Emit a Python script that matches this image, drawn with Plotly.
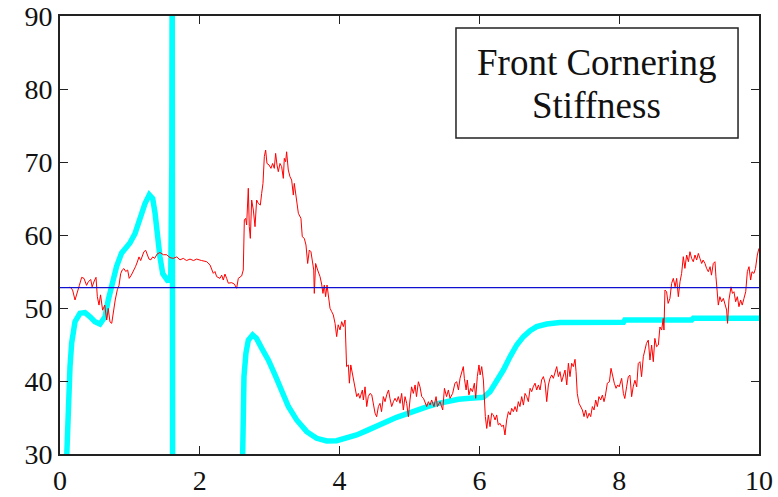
import plotly.graph_objects as go

# ---- data ----
reference_level = 52.8
x_ticks = [0, 2, 4, 6, 8, 10]
y_ticks = [30, 40, 50, 60, 70, 80, 90]
title_lines = ["Front Cornering", "Stiffness"]

red_points = [
    (0.143,52.9),(0.18,52.46),(0.215,51.1),(0.238,52.0),(0.277,53.1),(0.31,54.2),(0.343,54.06),
    (0.38,53.1),(0.405,53.6),(0.44,53.9),(0.46,52.9),(0.49,53.7),(0.515,54.2),(0.534,51.55),
    (0.558,50.4),(0.58,51.8),(0.61,49.7),(0.64,50.4),(0.668,48.35),(0.69,49.95),(0.715,48.1),
    (0.74,47.9),(0.763,49.7),(0.79,51.1),(0.82,52.5),(0.844,53.1),(0.868,54.7),(0.89,55.2),
    (0.915,55.4),(0.94,55.0),(0.968,55.2),(0.99,54.06),(1.02,54.5),(1.05,55.0),(1.08,55.66),
    (1.106,56.3),(1.13,57.0),(1.154,56.5),(1.178,57.3),(1.2,57.7),(1.226,57.9),(1.25,57.2),
    (1.273,56.7),(1.3,56.6),(1.326,57.0),(1.354,56.8),(1.39,57.4),(1.43,57.6),(1.478,57.3),
    (1.526,57.3),(1.574,56.9),(1.62,56.8),(1.67,57.0),(1.717,56.6),(1.764,56.8),(1.81,56.5),
    (1.86,56.7),(1.91,56.5),(1.955,56.7),
    (2.026,56.5),(2.098,56.35),(2.146,55.9),(2.193,54.75),(2.217,55.0),(2.241,54.3),(2.289,54.06),
    (2.313,54.5),(2.336,53.83),(2.36,54.65),(2.384,54.06),(2.408,53.4),(2.456,53.47),(2.494,53.28),
    (2.527,52.7),(2.551,54.06),(2.599,54.4),(2.622,55.2),(2.637,62.05),(2.656,62.28),(2.67,61.37),
    (2.694,66.4),(2.708,61.14),(2.723,59.54),(2.742,64.79),(2.766,63.42),(2.79,61.14),(2.813,64.79),
    (2.837,64.33),(2.866,64.1),(2.885,65.7),(2.904,67.07),(2.923,70.73),(2.942,71.64),(2.961,69.8),
    (2.99,69.6),(3.018,69.13),(3.042,69.8),(3.066,69.13),(3.085,71.18),(3.104,69.6),(3.123,68.67),
    (3.147,69.8),(3.171,69.36),(3.195,67.76),(3.209,70.5),(3.228,70.04),(3.242,71.4),(3.266,68.9),
    (3.29,67.99),(3.314,67.53),(3.338,65.47),(3.352,67.07),(3.376,65.0),(3.41,62.97),(3.447,62.28),
    (3.466,59.77),(3.495,59.54),(3.519,58.63),(3.543,56.1),(3.567,57.94),(3.59,57.71),(3.61,56.35),
    (3.63,55.2),(3.638,52.0),(3.657,56.1),(3.686,55.2),(3.72,54.3),(3.743,53.28),(3.762,52.0),
    (3.781,53.15),(3.8,51.55),(3.82,53.15),(3.84,51.3),
    (3.863,49.96),(3.887,49.5),(3.91,49.05),(3.935,47.9),(3.958,46.08),(3.98,47.7),(4.006,47.0),
    (4.03,48.13),(4.054,47.45),(4.078,48.36),(4.1,41.97),(4.125,42.2),(4.14,39.7),(4.16,42.2),
    (4.183,41.05),(4.2,39.7),(4.22,39.2),(4.245,37.86),(4.268,38.3),(4.29,37.63),(4.326,38.77),
    (4.34,37.4),(4.364,39.2),(4.388,36.5),(4.41,37.86),(4.435,38.3),(4.46,38.1),(4.483,36.7),
    (4.507,35.6),(4.53,35.1),(4.555,36.5),(4.578,36.94),(4.6,35.8),(4.626,37.86),(4.65,37.17),
    (4.674,38.1),(4.7,38.77),(4.72,37.63),(4.745,36.5),(4.77,37.17),(4.793,37.63),(4.817,37.17),
    (4.84,37.86),(4.865,36.94),(4.888,38.3),(4.912,36.03),(4.936,37.86),(4.96,36.94),(4.984,35.1),
    (5.007,37.4),(5.03,39.2),(5.055,38.3),(5.08,39.46),(5.1,37.86),(5.127,39.9),(5.15,39.2),
    (5.175,37.86),(5.2,37.63),(5.222,36.94),(5.246,36.5),(5.27,37.17),(5.294,36.7),(5.317,37.4),
    (5.35,36.5),(5.38,37.86),(5.4,36.5),(5.437,37.17),(5.475,36.03),(5.5,39.0),(5.53,37.86),
    (5.556,38.77),(5.58,37.63),(5.617,38.3),(5.65,39.7),(5.675,39.9),(5.7,38.77),(5.723,40.37),
    (5.747,41.05),(5.77,41.97),(5.785,40.37),(5.81,38.77),(5.827,40.14),(5.85,38.1),(5.875,39.0),
    (5.9,38.54),(5.928,39.7),(5.947,37.63),(5.97,40.6),(5.994,42.2),
    (6.01,40.83),(6.033,41.97),(6.057,40.14),(6.07,37.86),(6.085,35.12),(6.105,33.5),(6.128,35.35),
    (6.152,33.75),(6.176,35.58),(6.2,35.35),(6.224,34.66),(6.247,35.35),(6.27,33.98),(6.295,34.2),
    (6.32,33.75),(6.343,33.98),(6.366,32.6),(6.39,34.66),(6.415,35.8),(6.44,35.35),(6.462,36.26),
    (6.486,35.8),(6.51,36.5),(6.534,35.8),(6.557,37.17),(6.58,36.5),(6.605,37.86),(6.63,36.7),
    (6.653,38.3),(6.677,37.86),(6.7,37.17),(6.725,39.0),(6.748,38.54),(6.77,39.2),(6.796,39.7),
    (6.82,38.77),(6.844,39.46),(6.868,38.77),(6.89,40.14),(6.915,40.6),(6.94,39.7),(6.963,37.17),
    (6.987,39.46),(7.01,40.37),(7.035,40.83),(7.058,40.37),(7.082,41.28),(7.106,41.97),(7.13,40.6),
    (7.153,41.28),(7.177,39.9),(7.2,40.83),(7.225,41.5),(7.25,39.46),(7.273,42.43),(7.296,40.6),
    (7.32,42.43),(7.344,41.97),(7.368,42.97),(7.383,41.28),(7.4,38.3),(7.425,36.94),(7.45,36.5),
    (7.473,36.03),(7.497,35.12),(7.52,36.03),(7.545,34.9),(7.57,35.58),(7.592,35.12),(7.616,36.5),
    (7.64,36.03),(7.664,37.4),(7.688,36.5),(7.71,37.86),(7.735,37.4),(7.76,38.08),(7.783,37.17),
    (7.8,37.86),(7.83,39.7),(7.86,39.9),(7.883,41.74),(7.907,40.6),(7.93,39.7),(7.955,39.0),
    (7.978,39.46),(8.0,39.2),
    (8.035,40.36),(8.06,38.3),(8.08,37.6),(8.106,39.2),(8.13,40.59),(8.154,40.8),(8.178,37.85),
    (8.2,39.2),(8.225,40.1),(8.25,39.2),(8.273,42.4),(8.297,42.64),(8.32,40.59),(8.345,43.33),
    (8.369,44.47),(8.39,45.15),(8.416,45.6),(8.44,42.87),(8.464,44.93),(8.488,42.64),(8.51,45.84),
    (8.535,44.7),(8.56,44.93),(8.583,47.4),(8.607,46.98),(8.63,48.58),(8.64,46.98),(8.655,52.46),
    (8.678,52.23),(8.7,50.63),(8.726,51.32),(8.75,53.37),(8.774,54.06),(8.8,52.9),(8.822,54.06),
    (8.846,51.55),(8.87,53.6),(8.893,54.74),(8.917,57.03),(8.94,55.43),(8.965,57.26),(8.99,56.34),
    (9.012,57.71),(9.036,56.8),(9.06,56.34),(9.084,57.26),(9.108,56.57),(9.132,57.48),(9.155,56.8),
    (9.18,56.1),(9.2,56.57),(9.227,56.1),(9.25,55.43),(9.275,54.97),(9.3,55.66),(9.32,54.5),
    (9.346,56.1),(9.37,56.34),(9.384,54.28),(9.4,52.46),(9.418,50.4),(9.44,51.55),(9.465,50.86),
    (9.49,51.32),(9.513,50.63),(9.537,49.72),(9.55,47.9),(9.57,51.1),(9.6,52.9),(9.62,52.0),
    (9.642,52.23),(9.666,50.86),(9.69,51.55),(9.713,50.18),(9.737,51.1),(9.76,50.4),(9.785,51.32),
    (9.81,52.23),(9.833,54.97),(9.857,55.66),(9.88,53.83),(9.9,54.97),(9.928,54.74),(9.95,55.43),
    (9.976,57.26),(9.999,58.17),
]

cyan_part1 = [
    (0.09,28.0),(0.12,37.4),(0.143,41.97),(0.167,45.2),(0.215,48.13),(0.286,49.27),(0.358,49.37),
    (0.43,48.8),(0.5,48.13),(0.572,47.8),(0.644,48.8),(0.69,51.1),(0.74,53.4),(0.81,55.7),
    (0.88,57.5),(0.95,58.3),(1.0,58.9),(1.073,60.2),(1.145,62.5),(1.216,64.3),(1.278,65.5),
    (1.326,65.0),(1.36,63.0),(1.39,60.2),(1.43,57.0),(1.47,54.7),(1.516,53.83),(1.55,53.6),
    (1.585,54.5),(1.6,70.0),(1.605,100.0),(1.612,20.0),
]
cyan_part2 = [
    (2.61,28.0),(2.623,36.9),(2.632,40.6),(2.66,43.8),(2.694,45.6),(2.756,46.3),(2.81,45.85),
    (2.885,44.5),(2.98,42.88),(3.076,40.83),(3.17,38.54),(3.267,36.5),(3.386,34.66),(3.53,33.06),
    (3.672,32.15),(3.815,31.78),(3.958,31.83),(4.1,32.15),(4.244,32.6),(4.387,33.2),(4.53,33.84),
    (4.673,34.43),(4.816,35.03),(4.96,35.5),(5.1,36.03),(5.245,36.45),(5.4,36.9),(5.55,37.2),
    (5.7,37.5),(5.866,37.63),(6.057,37.77),(6.152,38.54),(6.247,39.9),(6.343,41.5),(6.44,43.34),
    (6.534,44.94),(6.63,46.08),(6.725,46.9),(6.82,47.45),(6.963,47.8),(7.153,48.0),(8.06,48.03),
    (8.08,48.35),(9.036,48.35),(9.06,48.58),(10.0,48.58),
]

# ---- build traces ----
cx = [p[0] for p in cyan_part1] + [None] + [p[0] for p in cyan_part2]
cy = [p[1] for p in cyan_part1] + [None] + [p[1] for p in cyan_part2]
rx = [p[0] for p in red_points]
ry = [p[1] for p in red_points]

fig = go.Figure()
fig.add_trace(go.Scatter(x=cx, y=cy, mode="lines", line=dict(color="#00ffff", width=5.5),
                         connectgaps=False, hoverinfo="skip"))
fig.add_trace(go.Scatter(x=rx, y=ry, mode="lines", line=dict(color="#ff0000", width=1)))
fig.add_trace(go.Scatter(x=[0, 10], y=[reference_level, reference_level], mode="lines",
                         line=dict(color="#1010d0", width=1.2)))

font_family = "Liberation Serif"
axis_common = dict(showgrid=False, zeroline=False, showline=True, linecolor="#222222",
                   linewidth=2, mirror="ticks", ticks="inside", ticklen=8, tickwidth=1,
                   tickcolor="#222222", automargin=False,
                   tickfont=dict(family=font_family, size=28, color="#111111"))
fig.update_xaxes(range=[0, 10], tickvals=x_ticks, ticktext=[str(v) for v in x_ticks], **axis_common)
fig.update_yaxes(range=[30, 90], tickvals=y_ticks, ticktext=[str(v) for v in y_ticks], **axis_common)

fig.add_shape(type="rect", xref="paper", yref="paper", x0=0.5665, x1=0.97, y0=0.7215, y1=0.9726,
              line=dict(color="#222222", width=1.5), fillcolor="white", layer="above")
fig.add_annotation(xref="paper", yref="paper", x=0.768, y=0.8936, text=title_lines[0], showarrow=False,
                   font=dict(family=font_family, size=37, color="#111111"), xanchor="center", yanchor="middle")
fig.add_annotation(xref="paper", yref="paper", x=0.768, y=0.7954, text=title_lines[1], showarrow=False,
                   font=dict(family=font_family, size=37, color="#111111"), xanchor="center", yanchor="middle")

fig.update_layout(width=778, height=497, margin=dict(l=60, r=19, t=16, b=43),
                  paper_bgcolor="white", plot_bgcolor="white", showlegend=False,
                  font=dict(family=font_family))

fig.write_html("out.html")
